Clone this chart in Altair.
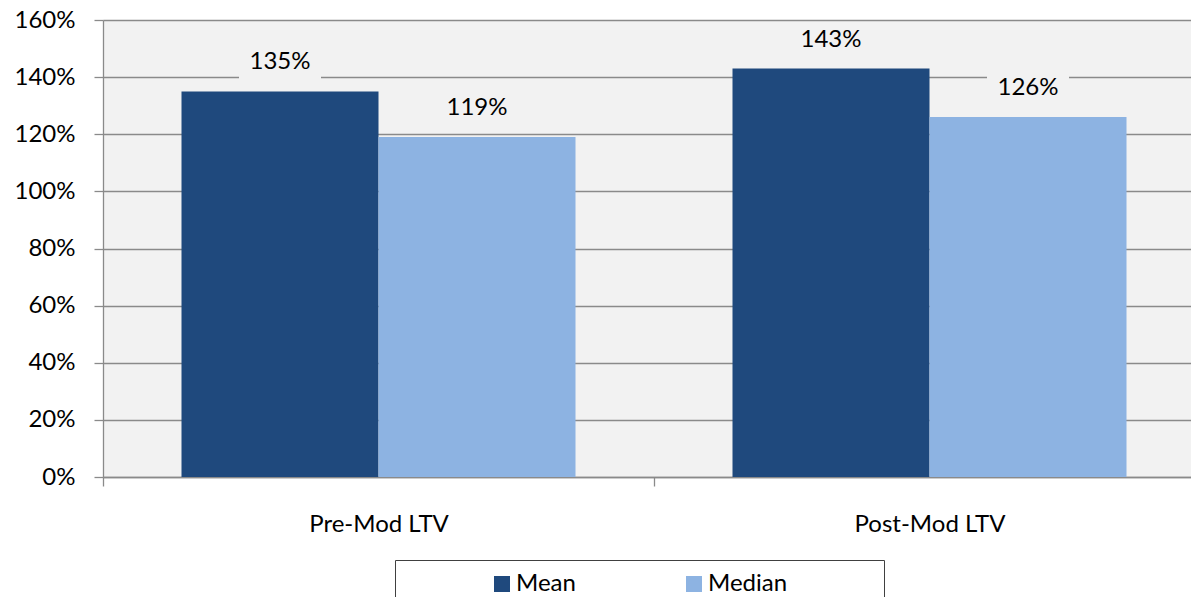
import altair as alt
import pandas as pd

categories = ["Pre-Mod LTV", "Post-Mod LTV"]
series = ["Mean", "Median"]
mean_values = [1.35, 1.43]
median_values = [1.19, 1.26]
series_colors = ["#1F497D", "#8DB3E2"]
y_ticks = [0, 0.2, 0.4, 0.6, 0.8, 1.0, 1.2, 1.4, 1.6]

rows = []
for i, c in enumerate(categories):
    rows.append({"category": c, "series": "Mean", "value": mean_values[i]})
    rows.append({"category": c, "series": "Median", "value": median_values[i]})
df = pd.DataFrame(rows)

FONT = "Lato"
FS = 24
GRID = "#8a8a8a"
BG = "#F2F2F2"

x = alt.X(
    "category:N", sort=categories, title=None,
    scale=alt.Scale(paddingInner=0, paddingOuter=0),
    axis=alt.Axis(labelAngle=0, tickBand="extent", tickSize=9, tickColor=GRID,
                  tickWidth=1.3, domainColor=GRID, domainWidth=1.3,
                  labelFontSize=FS, labelFont=FONT, labelColor="black",
                  labelBaseline="alphabetic", labelPadding=45, grid=False),
)
xo = alt.XOffset("series:N", sort=series,
                 scale=alt.Scale(paddingInner=0, paddingOuter=0.3985))
y = alt.Y(
    "value:Q", title=None,
    scale=alt.Scale(domain=[0, 1.6], nice=False),
    axis=alt.Axis(format=".0%", values=y_ticks, tickSize=9, tickColor=GRID,
                  tickWidth=1.3, domainColor=GRID, domainWidth=1.3,
                  gridColor=GRID, gridWidth=1.3, grid=True,
                  labelFontSize=FS, labelFont=FONT, labelColor="black",
                  labelPadding=19),
)

legend = alt.Legend(
    title=None, orient="none", legendX=292, legendY=540,
    direction="horizontal", columns=2, columnPadding=23, padding=12,
    strokeColor="#404040", fillColor="white",
    symbolType="square", symbolSize=256, symbolStrokeWidth=0, symbolOpacity=1,
    symbolOffset=83, labelOffset=2, labelFontSize=FS, labelFont=FONT,
    labelColor="black", labelLimit=400,
    labelExpr="datum.value == 'Median' ? datum.label + '\u2003\u2003\u2003\u2003\u2002\u200b' : datum.label",
)

bars = alt.Chart(df).mark_bar().encode(
    x=x, xOffset=xo, y=y,
    color=alt.Color("series:N", sort=series,
                    scale=alt.Scale(domain=series, range=series_colors),
                    legend=legend),
)

boxes = alt.Chart(df).mark_point(
    shape="M-1,-0.415H1V0.415H-1Z", size=6724, filled=True,
    color=BG, opacity=1, strokeWidth=0, yOffset=-29,
).encode(x=x, xOffset=xo, y=y)

labels = alt.Chart(df).mark_text(
    baseline="middle", align="center", fontSize=FS, font=FONT,
    color="black", yOffset=-29,
).encode(x=x, xOffset=xo, y=y, text=alt.Text("value:Q", format=".0%"))

chart = alt.layer(bars, boxes, labels).properties(
    width=1102, height=457,
    autosize=alt.AutoSizeParams(type="none"),
    padding={"left": 95, "top": 12, "right": -14, "bottom": 120},
).configure_view(fill=BG, strokeOpacity=0)

chart.save("out.html", embed_options={"renderer": "svg", "actions": False})
